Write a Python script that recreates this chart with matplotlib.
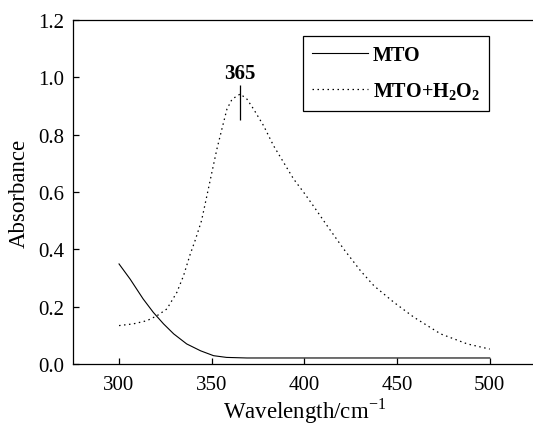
import matplotlib

matplotlib.use("Agg")
import matplotlib.pyplot as plt  # noqa: E402

plt.rcParams["font.family"] = ["Liberation Serif", "DejaVu Serif"]
plt.rcParams["mathtext.fontset"] = "custom"
plt.rcParams["mathtext.rm"] = "Liberation Serif"
plt.rcParams["mathtext.bf"] = "Liberation Serif:bold"

# MTO alone: absorbance edge falling into a flat baseline
mto_wl = [300, 306, 313, 318.5, 324, 329.5, 336.5, 344, 351, 358, 369, 500]
mto_abs = [0.349, 0.296, 0.227, 0.180, 0.140, 0.105, 0.070, 0.046, 0.029,
           0.023, 0.021, 0.021]

# MTO + H2O2: broad band peaking at 365
per_wl = [300, 307.7, 315, 320.4, 325.8, 331.2, 334.8, 338.4, 341, 344.5,
          347.4, 350.1, 352.8, 355.5, 358.2, 361, 365.4, 369, 372.6, 378,
          383.4, 388.8, 394.2, 399.6, 405, 412.3, 421.2, 430.3, 437.5, 448.3,
          459.1, 473.5, 487.9, 500]
per_abs = [0.134, 0.140, 0.151, 0.168, 0.192, 0.250, 0.308, 0.383, 0.430,
           0.500, 0.587, 0.669, 0.750, 0.820, 0.889, 0.924, 0.942, 0.924,
           0.889, 0.831, 0.761, 0.703, 0.645, 0.599, 0.550, 0.482, 0.401,
           0.325, 0.273, 0.215, 0.163, 0.105, 0.070, 0.052]

peak_wl = 365
peak_mark = (0.852, 0.973)

x_ticks = [300, 350, 400, 450, 500]
y_ticks = [0.0, 0.2, 0.4, 0.6, 0.8, 1.0, 1.2]

fig = plt.figure(figsize=(5.33, 4.27), dpi=100)
ax = fig.add_axes([72.7 / 533, 62 / 427, 463.4 / 533, 344 / 427])

ax.plot(mto_wl, mto_abs, color="black", lw=0.8, label="MTO")
ax.plot(per_wl, per_abs, color="black", lw=0.9, linestyle=(0, (1.2, 2.8)),
        label=r"MTO+H$_\mathbf{2}$O$_\mathbf{2}$")

ax.vlines(peak_wl, *peak_mark, color="black", lw=0.9)
ax.text(peak_wl, 0.98, str(peak_wl), ha="center", va="bottom",
        fontsize=15, fontweight="bold")

ax.set_xlim(275, 525)
ax.set_ylim(0, 1.2)
ax.set_xticks(x_ticks)
ax.set_yticks(y_ticks)
ax.set_yticklabels([f"{v:.1f}" for v in y_ticks])
ax.tick_params(axis="both", direction="in", labelsize=15, width=0.9,
               length=4.5, pad=6)
ax.tick_params(axis="x", pad=8)

ax.spines["right"].set_visible(False)
for side in ("left", "bottom", "top"):
    ax.spines[side].set_linewidth(0.9)

ax.set_xlabel(r"Wavelength/cm$^{-1}$", fontsize=16.5, labelpad=1)
ax.set_ylabel("Absorbance", fontsize=16.5, labelpad=6)

leg = ax.legend(loc="upper right", bbox_to_anchor=(489.3 / 533, 1 - 37.3 / 427),
                bbox_transform=fig.transFigure, fancybox=False,
                edgecolor="black", framealpha=1, borderaxespad=0,
                prop={"size": 14.5, "weight": "bold"}, handlelength=2.75,
                handletextpad=0.25, borderpad=0.45, labelspacing=0.75)
leg.get_frame().set_linewidth(0.9)

fig.savefig("out.png", dpi=100)
